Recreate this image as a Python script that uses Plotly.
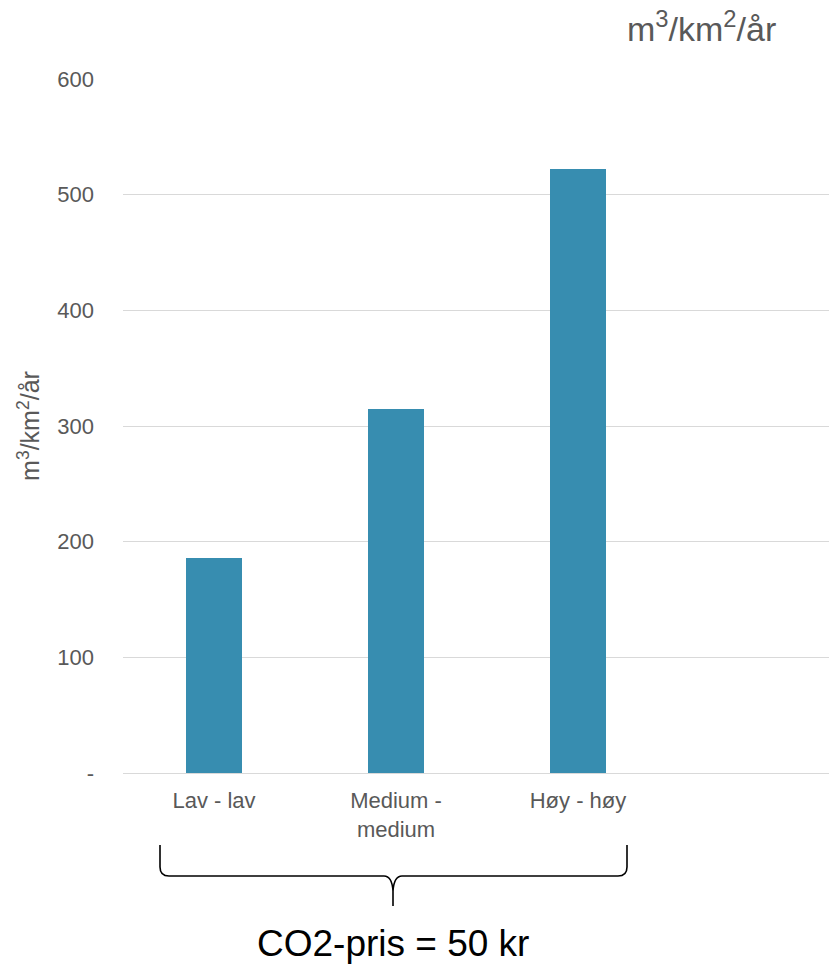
import plotly.graph_objects as go

categories = ["Lav - lav", "Medium -<br>medium", "Høy - høy"]
values = [186, 315, 522]
y_tickvals = [0, 100, 200, 300, 400, 500, 600]
y_ticktext = ["-", "100", "200", "300", "400", "500", "600"]
unit = "m<sup>3</sup>/km<sup>2</sup>/år"
bottom_label = "CO2-pris = 50 kr"

W, H = 829, 964
L, R, T, B = 123, 0, 79, 191
pw = W - L - R
ph = H - T - B

def px(x):
    return (x - L) / pw

def py(y):
    return (H - B - y) / ph

fig = go.Figure()
fig.add_trace(go.Bar(
    x=list(range(len(categories))), y=values,
    marker=dict(color="#378DB0", line=dict(width=0)),
    width=0.31,
))

# brace path in pixel coordinates converted to paper
pts = [
    ("M", 160, 845), ("L", 160, 867), ("Q", 160, 876, 169, 876), ("L", 384, 876),
    ("Q", 392, 876, 393, 891), ("L", 393, 906), ("M", 393, 891),
    ("Q", 394, 876, 402, 876), ("L", 618, 876), ("Q", 627, 876, 627, 867), ("L", 627, 845),
]
path = ""
for p in pts:
    cmd = p[0]
    coords = p[1:]
    s = []
    for i in range(0, len(coords), 2):
        s.append(f"{px(coords[i]):.5f},{py(coords[i+1]):.5f}")
    path += cmd + " " + " ".join(s) + " "

fig.add_shape(type="path", path=path.strip(), xref="paper", yref="paper",
              line=dict(color="black", width=1.6))

fig.add_annotation(text=unit, xref="paper", yref="paper",
                   x=px(701), y=py(26), showarrow=False, xanchor="center", yanchor="middle",
                   font=dict(size=34, color="#595959"))
fig.add_annotation(text=bottom_label, xref="paper", yref="paper",
                   x=px(393), y=py(943), showarrow=False, xanchor="center", yanchor="middle",
                   font=dict(size=37, color="black"))

fig.update_layout(
    width=W, height=H,
    margin=dict(l=L, r=R, t=T, b=B),
    paper_bgcolor="white", plot_bgcolor="white",
    showlegend=False,
    font=dict(family="Liberation Sans, Arial, sans-serif", color="#595959"),
    bargap=0,
)
fig.update_xaxes(
    range=[-0.5, -0.5 + pw / 182],
    tickvals=list(range(len(categories))), ticktext=categories,
    tickfont=dict(size=22, color="#595959"),
    showgrid=False, zeroline=False, showline=False, ticks="",
    ticklabelstandoff=12,
)
fig.update_yaxes(
    range=[0, 600],
    tickvals=y_tickvals, ticktext=y_ticktext,
    tickfont=dict(size=22, color="#595959"),
    showgrid=True, gridcolor="#D9D9D9", gridwidth=1,
    zeroline=True, zerolinecolor="#D9D9D9", zerolinewidth=1,
    showline=False, ticks="",
    ticklabelstandoff=28,
    title=dict(text=unit, font=dict(size=25, color="#595959"), standoff=10),
)

fig.write_html("out.html", config={"displayModeBar": False},
               post_script="document.body.style.margin='0px';document.body.style.overflow='hidden';")
